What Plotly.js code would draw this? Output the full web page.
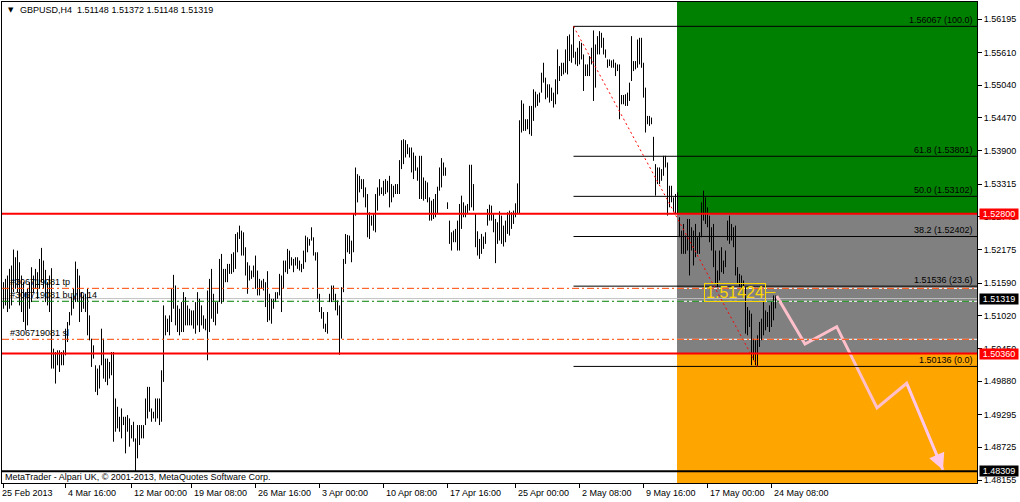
<!DOCTYPE html>
<html><head><meta charset="utf-8">
<script src="https://cdn.plot.ly/plotly-3.0.1.min.js"></script>
<style>html,body{margin:0;padding:0;background:#fff;}#chart{width:1020px;height:502px;}</style>
</head><body><div id="chart"></div>
<script>
const symbolHeader = "GBPUSD,H4\u00a0\u00a01.51148 1.51372 1.51148 1.51319";
const copyrightText = "MetaTrader - Alpari UK, \u00a9 2001-2013, MetaQuotes Software Corp.";
const highs = [
1.51606,1.51663,1.51721,1.51837,1.51895,1.52174,1.52040,1.52156,1.51953,1.51721,
1.51606,1.51432,1.51490,1.51606,1.51866,1.51721,1.51837,1.51779,1.52011,1.52203,
1.51982,1.51820,1.51606,1.51721,1.51849,1.50446,1.50388,1.50417,1.50417,1.50388,
1.50417,1.50794,1.50910,1.51084,1.51345,1.51490,1.51965,1.51837,1.51721,1.51432,
1.51374,1.51403,1.51490,1.51026,1.50620,1.50504,1.50156,1.50098,1.50156,1.50794,
1.50620,1.50272,1.50272,1.50214,1.50388,1.50388,1.49577,1.49432,1.49258,1.49403,
1.49258,1.49258,1.49287,1.49229,1.49113,1.49171,1.48881,1.49113,1.49113,1.49113,
1.49113,1.49577,1.49779,1.49779,1.49403,1.49345,1.49577,1.49577,1.49577,1.50069,
1.51200,1.51026,1.50968,1.51026,1.51490,1.51733,1.51548,1.51200,1.51142,1.51258,
1.51432,1.51345,1.51200,1.51142,1.51113,1.51113,
1.51258,1.51431,1.51316,1.51200,1.51026,1.50968,1.51460,1.51663,1.51837,1.51403,
1.51258,1.51258,1.52011,1.52098,1.51837,1.51837,1.51924,1.51924,1.52098,1.52127,
1.52446,1.52475,1.52591,1.52504,1.52475,1.52214,1.51953,1.51895,1.51808,1.51895,
1.52069,1.51808,1.51663,1.51634,1.51663,1.51605,1.51797,1.51403,1.51316,1.51316,
1.51431,1.51431,1.51750,1.51721,1.51982,1.51982,1.52185,1.52156,1.52040,1.52011,
1.52040,1.52040,1.51982,1.51924,1.52156,1.52417,1.52388,1.52359,1.52562,1.52388,
1.52127,1.52127,1.51403,1.51171,1.51084,1.50881,1.51084,1.51403,1.51547,1.51547,
1.51403,1.51287,1.51200,1.51518,1.52011,1.52446,1.52429,1.52417,1.52330,1.52794,
1.53605,1.53489,1.53460,1.53402,1.53402,1.53258,1.53142,1.52823,1.52765,1.52794,
1.53142,1.53258,1.53402,1.53258,1.53373,1.53402,1.53373,1.53460,
1.53316,1.53287,1.53316,1.53316,1.53734,1.54082,1.54099,1.54082,1.54012,1.53954,
1.53954,1.53867,1.53809,1.53606,1.53809,1.53809,1.53432,1.53374,1.53345,1.53085,
1.53027,1.53056,1.53143,1.53270,1.53606,1.53769,1.53693,1.53606,1.52998,1.52679,
1.52476,1.52505,1.52534,1.52679,1.52969,1.53114,1.52998,1.52940,1.52969,1.53653,
1.53653,1.53316,1.52795,1.52493,1.52360,1.52447,1.52401,1.52476,1.52882,1.52957,
1.52940,1.52795,1.52708,1.52650,1.52841,1.52766,1.52592,1.52679,1.52824,1.52853,
1.52824,1.52853,1.52980,1.53328,1.54429,1.54777,1.54719,1.54447,1.54447,1.54679,
1.54679,1.54969,1.54928,1.54882,1.54911,1.55258,1.55432,1.55172,1.55056,1.55056,
1.54998,1.54911,1.55143,1.55664,1.55374,1.55432,1.55432,1.55664,1.55896,1.55925,
1.55751,1.56067,1.55624,1.55693,1.55809,1.55780,
1.55577,1.55403,1.55403,1.55548,1.55693,1.55995,1.55751,1.55896,1.55983,1.55954,
1.55867,1.55664,1.55490,1.55490,1.55473,1.55490,1.55432,1.55403,1.55403,1.54870,
1.54870,1.54882,1.54911,1.55085,1.55896,1.55461,1.55461,1.55838,1.55867,1.55867,
1.55432,1.54998,1.54505,1.54505,1.54476,1.54140,1.53664,1.53606,1.53606,1.53577,
1.53809,1.53809,1.53693,1.53287,1.53287,1.53085,1.53143,1.53172,1.52737,1.52505,
1.52621,1.52418,1.52708,1.52708,1.52563,1.52505,1.52621,1.52389,1.52476,1.52998,
1.53201,1.53085,1.52911,1.52766,1.52563,1.52621,1.52157,1.51809,1.52157,1.52215,
1.51983,1.52157,1.52679,1.52766,1.52621,1.52563,1.52592,1.51867,1.51751,1.51722,
1.51635,1.51519,1.51172,1.51114,1.51056,1.50621,1.50592,1.50679,1.50911,1.50969,
1.51258,1.51114,1.51085,1.51201,1.51258,1.51374,1.51372];
const lows = [
1.51142,1.51200,1.51084,1.51142,1.51200,1.51432,1.51490,1.51432,1.51200,1.51084,
1.50910,1.50765,1.50852,1.51142,1.51258,1.51432,1.51490,1.51316,1.51490,1.51606,
1.51490,1.51258,1.51200,1.51084,1.50098,1.50098,1.49837,1.50156,1.50040,1.50156,
1.50156,1.50330,1.50562,1.50852,1.51026,1.51142,1.51258,1.51258,1.50910,1.51084,
1.51142,1.51084,1.50678,1.50591,1.50127,1.50272,1.49692,1.49635,1.49750,1.50156,
1.49924,1.49866,1.49808,1.49924,1.49982,1.48823,1.48997,1.49055,1.48997,1.48881,
1.49113,1.48620,1.48997,1.48736,1.48881,1.48823,1.48309,1.48533,1.48765,1.48881,
1.48881,1.49113,1.49229,1.49345,1.49171,1.49229,1.49171,1.49229,1.49113,1.49171,
1.49866,1.50678,1.50736,1.50678,1.50910,1.51142,1.50852,1.50736,1.50678,1.50736,
1.50736,1.50852,1.50852,1.50852,1.50852,1.50794,
1.50707,1.50852,1.50736,1.50852,1.50794,1.50765,1.50243,1.50736,1.50968,1.50910,
1.50852,1.51055,1.51258,1.51229,1.51258,1.51605,1.51605,1.51750,1.51750,1.51779,
1.51837,1.52127,1.52359,1.52069,1.52069,1.51721,1.51403,1.51634,1.51663,1.51692,
1.51489,1.51374,1.51374,1.51489,1.51460,1.51171,1.50910,1.50939,1.50881,1.51142,
1.51258,1.51316,1.51374,1.51084,1.51489,1.51779,1.51750,1.51837,1.51895,1.51779,
1.51895,1.51837,1.51808,1.51779,1.51837,1.51953,1.52127,1.52243,1.52330,1.52069,
1.51982,1.51316,1.51084,1.50968,1.50794,1.50736,1.50707,1.51258,1.51258,1.51287,
1.51113,1.51026,1.50340,1.50620,1.51431,1.51924,1.52127,1.52098,1.51953,1.52127,
1.52765,1.52997,1.53171,1.53229,1.53084,1.52910,1.52388,1.52359,1.52591,1.52504,
1.52475,1.52852,1.53113,1.53142,1.53113,1.53142,1.53171,1.52910,
1.52998,1.53085,1.53143,1.53143,1.53143,1.53577,1.53664,1.53780,1.53838,1.53780,
1.53519,1.53403,1.53548,1.53374,1.53056,1.53056,1.53027,1.53056,1.52998,1.52679,
1.52679,1.52708,1.52737,1.52795,1.53201,1.53258,1.53461,1.53461,1.52882,1.52273,
1.52157,1.52302,1.52302,1.52157,1.52157,1.52534,1.52737,1.52737,1.52795,1.52853,
1.52911,1.52853,1.52215,1.52070,1.52012,1.52099,1.52186,1.52273,1.52592,1.52679,
1.52679,1.52476,1.51937,1.52273,1.52331,1.52273,1.52227,1.52302,1.52447,1.52418,
1.52534,1.52621,1.52737,1.52795,1.52795,1.54215,1.54244,1.54244,1.54273,1.54186,
1.54157,1.54418,1.54650,1.54679,1.54737,1.54911,1.55085,1.54795,1.54824,1.54737,
1.54766,1.54650,1.54708,1.54882,1.55114,1.55200,1.55229,1.55258,1.55229,1.55461,
1.55432,1.55519,1.55403,1.55374,1.55403,1.55490,
1.54940,1.55200,1.55200,1.55200,1.55403,1.54766,1.54998,1.55577,1.55577,1.55693,
1.55577,1.55519,1.55345,1.55374,1.55345,1.55345,1.55200,1.55287,1.54447,1.54708,
1.54708,1.54679,1.54679,1.54766,1.55114,1.55287,1.55316,1.55345,1.55403,1.55345,
1.54824,1.54215,1.54360,1.54331,1.54360,1.53722,1.53114,1.53316,1.53316,1.53374,
1.53461,1.53606,1.52766,1.52911,1.52998,1.52824,1.52795,1.52795,1.52389,1.52099,
1.52099,1.52099,1.52157,1.51722,1.52157,1.51896,1.52041,1.52099,1.52099,1.52389,
1.52679,1.52621,1.52563,1.52302,1.52157,1.51867,1.51577,1.51519,1.51635,1.51780,
1.51751,1.51867,1.52331,1.52273,1.52331,1.52215,1.51722,1.51577,1.51519,1.51490,
1.51345,1.50708,1.50679,1.50824,1.50157,1.50244,1.50157,1.50136,1.50476,1.50592,
1.50679,1.50766,1.50824,1.50737,1.50824,1.50940,1.51148];

const timeTickIndex = [0,31,64,94,126,158,190,222,256,288,320,352,384];
const timeTickText = ["25 Feb 2013","4 Mar 16:00","12 Mar 00:00","19 Mar 08:00","26 Mar 16:00","3 Apr 00:00","10 Apr 08:00","17 Apr 16:00","25 Apr 00:00","2 May 08:00","9 May 16:00","17 May 00:00","24 May 08:00"];
const priceTicks = [1.56195,1.55610,1.55040,1.54470,1.53900,1.53315,1.52745,1.52175,1.51590,1.51020,1.50450,1.49880,1.49295,1.48725,1.48155];

const fibStartIndex = 285, fibEndIndex = 377;
const fibPrices = [1.56067,1.53801,1.53102,1.52402,1.51536,1.50136];
const fibLabels = ["1.56067 (100.0)","61.8 (1.53801)","50.0 (1.53102)","38.2 (1.52402)","1.51536 (23.6)","1.50136 (0.0)"];

const zoneStartIndex = 336.75;
const zoneTop = 1.52800, zoneBottom = 1.50360;
const lowLevel = 1.48309;
const bidPrice = 1.51319;
const orderNames = ["#306719081 tp","#306719081 buy 0.14","#306719081 sl"];
const orderPrices = [1.51498,1.51272,1.50609];
const orderColors = ["#ff4500","#008000","#ff4500"];
const markPrice = 1.51424, markLabel = "1.51424";
const projIndex = [386.6,400.75,416.6,436.75,451.6,469.75];
const projPrice = [1.51364,1.50527,1.50829,1.49411,1.49842,1.48330];

const XMIN=-0.75, XMAX=486.75, YMIN=1.481029, YMAX=1.564915;
const FONT = "Liberation Sans, Arial, sans-serif";

const bx=[], by=[];
for (let i=0;i<highs.length;i++){ bx.push(i,i,null); by.push(lows[i],highs[i],null); }

const traces = [
 {type:'scatter',mode:'lines',x:bx,y:by,line:{color:'#000',width:1},hoverinfo:'skip',showlegend:false},
 {type:'scatter',mode:'lines',x:projIndex,y:projPrice,line:{color:'#ffc0cb',width:3},hoverinfo:'skip',showlegend:false}
];

const shapes = [];
shapes.push({type:'rect',xref:'x',yref:'y',x0:zoneStartIndex,x1:XMAX,y0:zoneTop,y1:YMAX,fillcolor:'#008000',line:{width:0},layer:'below'});
shapes.push({type:'rect',xref:'x',yref:'y',x0:zoneStartIndex,x1:XMAX,y0:zoneBottom,y1:zoneTop,fillcolor:'#808080',line:{width:0},layer:'below'});
shapes.push({type:'rect',xref:'x',yref:'y',x0:zoneStartIndex,x1:XMAX,y0:YMIN,y1:zoneBottom,fillcolor:'#ffa500',line:{width:0},layer:'below'});
orderPrices.forEach(p=>shapes.push({type:'line',xref:'x',yref:'y',x0:zoneStartIndex,x1:XMAX,y0:p,y1:p,line:{color:'#fff',width:1},layer:'below'}));
shapes.push({type:'line',xref:'x',yref:'y',x0:XMIN,x1:XMAX,y0:bidPrice,y1:bidPrice,line:{color:'#c0c0c0',width:1},layer:'below'});
fibPrices.forEach(p=>shapes.push({type:'line',xref:'x',yref:'y',x0:fibStartIndex,x1:XMAX,y0:p,y1:p,line:{color:'#000',width:1},layer:'above'}));
shapes.push({type:'line',xref:'x',yref:'y',x0:fibStartIndex,x1:fibEndIndex,y0:fibPrices[0],y1:fibPrices[5],line:{color:'#ff0000',width:1,dash:'2px,3px'},layer:'above'});
orderPrices.forEach((p,k)=>shapes.push({type:'line',xref:'x',yref:'y',x0:XMIN,x1:XMAX,y0:p,y1:p,line:{color:orderColors[k],width:1,dash:'7px,3px,2px,3px'},layer:'above'}));
[zoneTop,zoneBottom].forEach(p=>shapes.push({type:'line',xref:'x',yref:'y',x0:XMIN,x1:XMAX,y0:p,y1:p,line:{color:'#ff0000',width:2},layer:'above'}));
shapes.push({type:'line',xref:'x',yref:'y',x0:XMIN,x1:XMAX,y0:lowLevel,y1:lowLevel,line:{color:'#000',width:2},layer:'above'});
shapes.push({type:'line',xref:'x',yref:'y',x0:381,x1:386,y0:markPrice,y1:markPrice,line:{color:'#ffd700',width:1},layer:'above'});

const ann = [];
const f9 = {family:FONT,size:9,color:'#000'};
ann.push({xref:'paper',yref:'paper',x:0.004,y:0.9834,xanchor:'left',yanchor:'middle',text:'\u25bc',showarrow:false,font:{family:'DejaVu Sans',size:7,color:'#000'}});
ann.push({xref:'paper',yref:'paper',x:0.0165,y:0.9834,xanchor:'left',yanchor:'middle',text:symbolHeader,showarrow:false,font:f9});
ann.push({xref:'paper',yref:'paper',x:0.001,y:0.0135,xanchor:'left',yanchor:'middle',text:copyrightText,showarrow:false,font:f9});
timeTickIndex.forEach((t,k)=>ann.push({xref:'x',yref:'paper',x:t,y:-0.021,xanchor:'left',yanchor:'middle',xshift:(k===0?-4:0),text:timeTickText[k],showarrow:false,font:f9}));
fibPrices.forEach((p,k)=>ann.push({xref:'paper',yref:'y',x:0.998,y:p,xanchor:'right',yanchor:'middle',yshift:6,text:fibLabels[k],showarrow:false,font:f9}));
orderPrices.forEach((p,k)=>ann.push({xref:'paper',yref:'y',x:0.006,y:p,xanchor:'left',yanchor:'middle',yshift:6,text:orderNames[k],showarrow:false,font:f9}));
[[zoneTop,'#ff0000'],[bidPrice,'#000000'],[zoneBottom,'#ff0000'],[lowLevel,'#000000']].forEach(([p,c])=>
  ann.push({xref:'paper',yref:'y',x:1.0021,y:p,xanchor:'left',yanchor:'middle',text:p.toFixed(5),showarrow:false,bgcolor:c,width:38,height:10,borderpad:0,font:{family:FONT,size:9,color:'#fff'}}));
ann.push({xref:'x',yref:'y',x:365.8,y:markPrice,xanchor:'center',yanchor:'middle',text:markLabel,showarrow:false,bordercolor:'#ffd700',borderwidth:1,borderpad:0,width:60,height:17,font:{family:FONT,size:16,color:'#ffd700'}});
ann.push({xref:'x',yref:'y',x:projIndex[5],y:projPrice[5],axref:'x',ayref:'y',ax:projIndex[4],ay:projPrice[4],showarrow:true,arrowhead:2,arrowsize:1.3,arrowwidth:2.5,arrowcolor:'#ffc8e6',text:''});

const layout = {
 width:1020,height:502,margin:{l:2,r:43,t:2,b:19},
 paper_bgcolor:'#fff',plot_bgcolor:'#fff',showlegend:false,
 xaxis:{range:[XMIN,XMAX],showgrid:false,zeroline:false,showline:true,linecolor:'#000',linewidth:1,mirror:true,
        tickvals:timeTickIndex,ticks:'outside',ticklen:4,tickcolor:'#000',showticklabels:false},
 yaxis:{range:[YMIN,YMAX],side:'right',showgrid:false,zeroline:false,showline:true,linecolor:'#000',linewidth:1,mirror:true,
        tickvals:priceTicks,ticktext:priceTicks.map(v=>v.toFixed(5)),ticks:'outside',ticklen:4,tickcolor:'#000',tickfont:f9},
 shapes:shapes,annotations:ann,hovermode:false
};
Plotly.newPlot('chart',traces,layout,{staticPlot:true});
</script></body></html>
